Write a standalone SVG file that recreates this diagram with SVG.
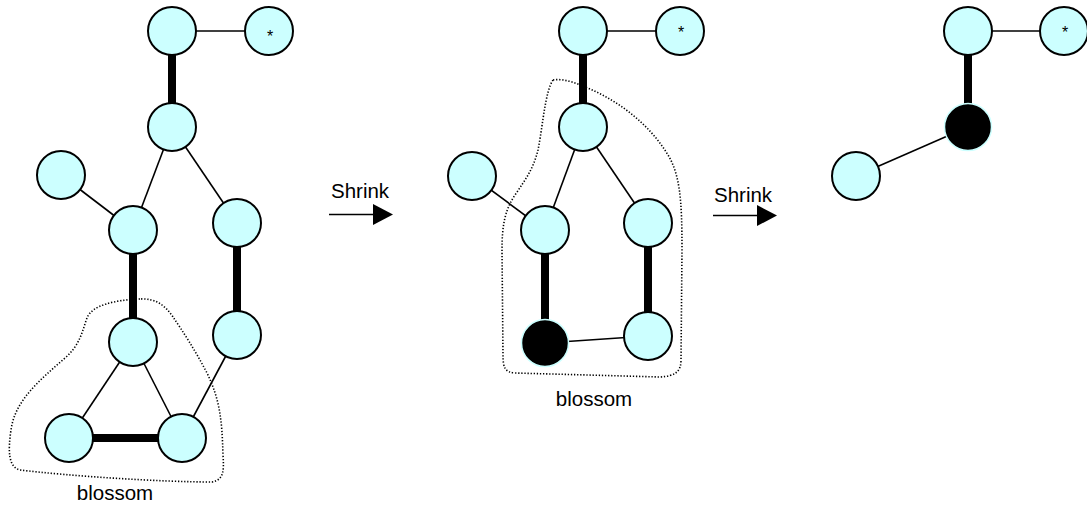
<svg xmlns="http://www.w3.org/2000/svg" width="1087" height="505" viewBox="0 0 1087 505">
<style>
.n{fill:#CCFFFF;stroke:#000;stroke-width:2}
.b{fill:#000;stroke:#CCFFFF;stroke-width:1.5}
.thin{stroke:#000;stroke-width:1.6;fill:none}
.thick{stroke:#000;stroke-width:8;fill:none}
.dot{fill:none;stroke:#000;stroke-width:1.6;stroke-dasharray:1.3 1.8}
.lbl{font-family:"Liberation Sans",Arial,sans-serif;font-size:20.5px;fill:#000}
.star{font-family:"Liberation Sans",Arial,sans-serif;font-size:16px;fill:#000;text-anchor:middle}
</style>
<defs>
<marker id="ah" viewBox="0 0 20 21" refX="0" refY="10.5" markerWidth="20" markerHeight="21" markerUnits="userSpaceOnUse" orient="auto">
<path d="M0 0 L20 10.5 L0 21 Z" fill="#000"/>
</marker>
</defs>
<g id="blossoms">
<path class="dot" d="M 140 299 C 115 300, 92 305, 87 318 C 82 332, 80 345, 65 358 C 40 380, 15 400, 11 430 C 8 450, 8 467, 20 470 C 70 476, 160 482, 212 482 C 224 480, 224 470, 223 455 C 222 420, 220 400, 207 373 C 195 350, 182 330, 173 317 C 165 305, 155 298, 140 299 Z"/>
<path class="dot" d="M 553 80 C 565 78, 578 84, 590 89 C 620 102, 650 125, 668 155 C 680 175, 682 200, 682 250 L 681 360 C 681 372, 675 376, 660 377 L 515 373 C 505 372, 503 368, 503 355 L 502 250 C 502 225, 505 210, 515 195 C 525 180, 533 170, 538 150 C 543 125, 545 92, 553 80 Z"/>
</g>
<g id="connectors">
<line class="thin" x1="172" y1="31" x2="269" y2="31"/>
<line class="thick" x1="172" y1="31" x2="172" y2="127"/>
<line class="thin" x1="172" y1="127" x2="133" y2="230"/>
<line class="thin" x1="172" y1="127" x2="237" y2="223"/>
<line class="thin" x1="61" y1="175" x2="133" y2="230"/>
<line class="thick" x1="133" y1="230" x2="133" y2="342"/>
<line class="thick" x1="237" y1="223" x2="237" y2="335"/>
<line class="thin" x1="133" y1="342" x2="69" y2="438"/>
<line class="thin" x1="133" y1="342" x2="182" y2="438"/>
<line class="thick" x1="69" y1="438" x2="182" y2="438"/>
<line class="thin" x1="237" y1="335" x2="182" y2="438"/>

<line class="thin" x1="583" y1="31" x2="680" y2="31"/>
<line class="thick" x1="583" y1="31" x2="583" y2="127"/>
<line class="thin" x1="583" y1="127" x2="545" y2="230"/>
<line class="thin" x1="583" y1="127" x2="648" y2="223"/>
<line class="thin" x1="472" y1="176" x2="545" y2="230"/>
<line class="thick" x1="545" y1="230" x2="545" y2="343"/>
<line class="thick" x1="648" y1="223" x2="648" y2="336"/>
<line class="thin" x1="545" y1="343" x2="648" y2="336"/>

<line class="thin" x1="968" y1="31" x2="1064" y2="31"/>
<line class="thick" x1="968" y1="31" x2="968" y2="127"/>
<line class="thin" x1="968" y1="127" x2="856" y2="176"/>

<line class="thin" x1="329" y1="214.5" x2="373" y2="214.5" marker-end="url(#ah)"/>
<line class="thin" x1="713" y1="215.5" x2="757" y2="215.5" marker-end="url(#ah)"/>
</g>
<g id="g1-top"><circle class="n" cx="172" cy="31" r="24"/></g>
<g id="g1-star"><circle class="n" cx="269" cy="31" r="24"/><text class="star" x="270" y="42">*</text></g>
<g id="g1-n2"><circle class="n" cx="172" cy="127" r="24"/></g>
<g id="g1-left"><circle class="n" cx="61" cy="175" r="24"/></g>
<g id="g1-a"><circle class="n" cx="133" cy="230" r="24"/></g>
<g id="g1-b"><circle class="n" cx="237" cy="223" r="24"/></g>
<g id="g1-c"><circle class="n" cx="133" cy="342" r="24"/></g>
<g id="g1-d"><circle class="n" cx="237" cy="335" r="24"/></g>
<g id="g1-e"><circle class="n" cx="69" cy="438" r="24"/></g>
<g id="g1-f"><circle class="n" cx="182" cy="438" r="24"/></g>
<g id="g1-label"><text class="lbl" x="115" y="500" text-anchor="middle">blossom</text></g>

<g id="g2-top"><circle class="n" cx="583" cy="31" r="24"/></g>
<g id="g2-star"><circle class="n" cx="680" cy="31" r="24"/><text class="star" x="681" y="38">*</text></g>
<g id="g2-n2"><circle class="n" cx="583" cy="127" r="24"/></g>
<g id="g2-left"><circle class="n" cx="472" cy="176" r="24"/></g>
<g id="g2-a"><circle class="n" cx="545" cy="230" r="24"/></g>
<g id="g2-b"><circle class="n" cx="648" cy="223" r="24"/></g>
<g id="g2-black"><circle class="b" cx="545" cy="343" r="23.5"/></g>
<g id="g2-d"><circle class="n" cx="648" cy="336" r="24"/></g>
<g id="g2-label"><text class="lbl" x="594" y="406" text-anchor="middle">blossom</text></g>

<g id="g3-top"><circle class="n" cx="968" cy="31" r="24"/></g>
<g id="g3-star"><circle class="n" cx="1064" cy="31" r="24"/><text class="star" x="1065" y="38">*</text></g>
<g id="g3-black"><circle class="b" cx="968" cy="127" r="23.5"/></g>
<g id="g3-left"><circle class="n" cx="856" cy="176" r="24"/></g>

<g id="shrink1"><text class="lbl" x="331" y="198">Shrink</text></g>
<g id="shrink2"><text class="lbl" x="714" y="202">Shrink</text></g>
</svg>
